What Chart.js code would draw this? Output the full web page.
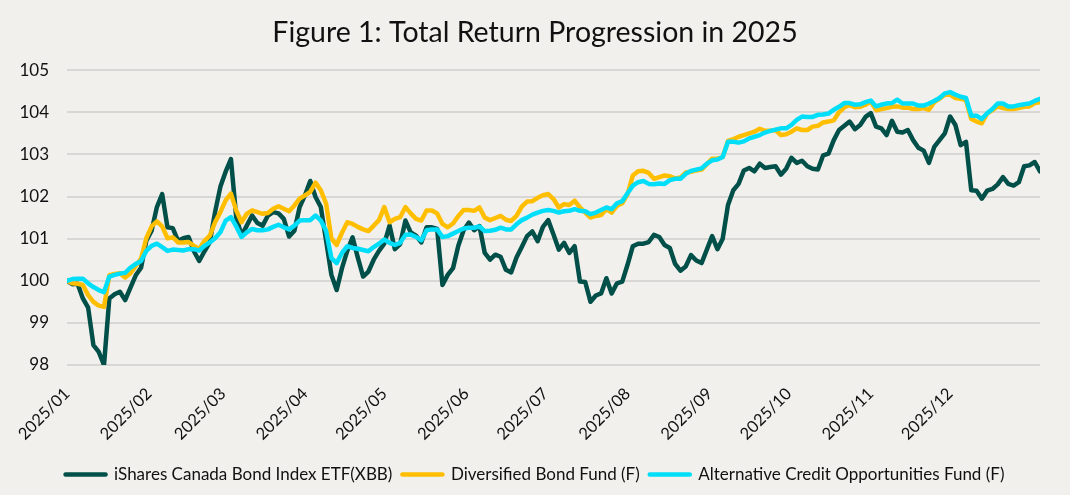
<!DOCTYPE html>
<html>
<head>
<meta charset="utf-8">
<title>Figure 1: Total Return Progression in 2025</title>
<script src="https://cdn.jsdelivr.net/npm/chart.js@4.4.1/dist/chart.umd.min.js"></script>
<style>
  html, body { margin: 0; padding: 0; background: #f2f0ed; }
  #wrap { width: 1070px; height: 495px; }
</style>
</head>
<body>
<div id="wrap"><canvas id="myChart"></canvas></div>
<script>
'use strict';

// one value every 2 calendar days, day 0 = 2025/01/01
const SAMPLE_STEP = 2;

const monthStarts = [0, 31, 59, 90, 120, 151, 181, 212, 243, 273, 304, 334];
const monthLabels = ['2025/01','2025/02','2025/03','2025/04','2025/05','2025/06',
                     '2025/07','2025/08','2025/09','2025/10','2025/11','2025/12'];

const yTicks = [98, 99, 100, 101, 102, 103, 104, 105];

const seriesNames = [
  'iShares Canada Bond Index ETF(XBB)',
  'Diversified Bond Fund (F)',
  'Alternative Credit Opportunities Fund (F)'
];

const xbb = [
  100.0, 99.92, 99.93, 99.58, 99.36, 98.47, 98.31, 98.0, 99.58, 99.68,
  99.74, 99.54, 99.84, 100.13, 100.31, 100.95, 101.19, 101.75, 102.06, 101.27,
  101.25, 100.95, 101.01, 101.04, 100.7, 100.47, 100.7, 100.91, 101.63, 102.23,
  102.59, 102.89, 101.51, 101.07, 101.31, 101.55, 101.37, 101.31, 101.55, 101.63,
  101.6, 101.47, 101.05, 101.19, 101.75, 102.03, 102.37, 101.99, 101.75, 100.95,
  100.14, 99.78, 100.3, 100.71, 101.03, 100.55, 100.1, 100.22, 100.5, 100.71,
  100.88, 101.31, 100.75, 100.87, 101.43, 101.15, 101.07, 100.91, 101.27, 101.27,
  101.23, 99.9, 100.14, 100.3, 100.83, 101.2, 101.38, 101.2, 101.3, 100.66,
  100.5, 100.62, 100.57, 100.26, 100.2, 100.55, 100.8, 101.06, 101.17, 100.94,
  101.28, 101.44, 101.1, 100.74, 100.9, 100.66, 100.82, 99.98, 99.97, 99.5,
  99.65, 99.7, 100.06, 99.7, 99.94, 99.98, 100.38, 100.82, 100.88, 100.88,
  100.92, 101.09, 101.04, 100.85, 100.78, 100.4, 100.24, 100.34, 100.61, 100.48,
  100.42, 100.74, 101.06, 100.75, 101.0, 101.8, 102.15, 102.3, 102.62, 102.68,
  102.6, 102.78, 102.68, 102.7, 102.72, 102.52, 102.66, 102.92, 102.8, 102.85,
  102.72, 102.66, 102.64, 102.98, 103.02, 103.34, 103.58, 103.68, 103.78, 103.6,
  103.7, 103.89, 103.98, 103.66, 103.62, 103.46, 103.8, 103.54, 103.52, 103.58,
  103.34, 103.16, 103.09, 102.8, 103.18, 103.34, 103.5, 103.9, 103.7, 103.22,
  103.3, 102.15, 102.14, 101.95, 102.14, 102.18, 102.29, 102.46, 102.3, 102.26,
  102.34, 102.72, 102.74, 102.82, 102.6
];

const diversified = [
  100.0, 99.94, 99.93, 99.9, 99.66, 99.5, 99.41, 99.38, 100.13, 100.16,
  100.18, 100.08, 100.18, 100.35, 100.53, 101.01, 101.29, 101.41, 101.29, 101.01,
  101.03, 100.91, 100.91, 100.92, 100.83, 100.75, 100.95, 101.07, 101.39, 101.63,
  101.91, 102.07, 101.67, 101.39, 101.59, 101.67, 101.63, 101.59, 101.61, 101.71,
  101.77, 101.71, 101.65, 101.79, 101.95, 102.03, 102.11, 102.33, 102.15, 101.83,
  101.0, 100.85, 101.14, 101.39, 101.35, 101.28, 101.22, 101.18, 101.31, 101.44,
  101.75, 101.39, 101.47, 101.51, 101.75, 101.6, 101.47, 101.43, 101.67, 101.67,
  101.6, 101.35, 101.27, 101.36, 101.54, 101.68, 101.68, 101.66, 101.74, 101.5,
  101.44, 101.49, 101.54, 101.45, 101.42, 101.54, 101.76, 101.88, 101.89, 101.97,
  102.03, 102.06, 101.94, 101.74, 101.82, 101.8, 101.9, 101.74, 101.62, 101.5,
  101.54, 101.56, 101.7, 101.62, 101.78, 101.84, 102.05, 102.5, 102.6, 102.61,
  102.56, 102.42, 102.46, 102.5, 102.48, 102.43, 102.45, 102.57, 102.59, 102.62,
  102.64, 102.77, 102.9, 102.9, 102.94, 103.32, 103.36, 103.42, 103.46, 103.5,
  103.54, 103.61, 103.56, 103.56, 103.58, 103.46, 103.48, 103.54, 103.62, 103.58,
  103.58, 103.66, 103.68, 103.76, 103.78, 103.81, 104.0, 104.12, 104.17, 104.12,
  104.13, 104.18, 104.26, 104.05, 104.08, 104.1, 104.13, 104.14, 104.11, 104.11,
  104.08, 104.08, 104.1, 104.06, 104.24, 104.32, 104.42, 104.42, 104.34, 104.32,
  104.29, 103.84, 103.78, 103.74, 103.97, 104.05, 104.14, 104.1, 104.08, 104.08,
  104.1, 104.13, 104.14, 104.22, 104.24
];

const altCredit = [
  100.0, 100.04, 100.05, 100.05, 99.94, 99.85, 99.78, 99.73, 100.1, 100.14,
  100.17, 100.19, 100.31, 100.4, 100.47, 100.71, 100.83, 100.88, 100.8, 100.71,
  100.74, 100.73, 100.72, 100.75, 100.75, 100.72, 100.83, 100.91, 101.01, 101.15,
  101.43, 101.51, 101.29, 101.04, 101.15, 101.23, 101.2, 101.2, 101.22, 101.28,
  101.33, 101.27, 101.22, 101.31, 101.43, 101.44, 101.44, 101.55, 101.43, 101.18,
  100.54, 100.42, 100.66, 100.82, 100.78, 100.76, 100.73, 100.7, 100.8, 100.88,
  100.98, 100.9, 100.85, 100.9, 101.09, 101.1, 101.04, 100.96, 101.2, 101.22,
  101.22, 101.04, 101.06, 101.12, 101.18, 101.24, 101.26, 101.26, 101.29, 101.18,
  101.19, 101.21, 101.26, 101.22, 101.22, 101.34, 101.44, 101.5, 101.57, 101.62,
  101.66, 101.68, 101.66, 101.62, 101.65, 101.66, 101.7, 101.66, 101.65, 101.58,
  101.62, 101.68, 101.74, 101.7, 101.84, 101.89, 102.08, 102.26, 102.34, 102.37,
  102.3, 102.29, 102.31, 102.3, 102.39, 102.42, 102.42, 102.54, 102.61, 102.64,
  102.67, 102.78, 102.86, 102.88, 102.94, 103.3, 103.3, 103.28, 103.31, 103.38,
  103.42, 103.46, 103.52, 103.56, 103.59, 103.62, 103.62, 103.7, 103.82, 103.9,
  103.89, 103.89, 103.94, 103.95, 103.97, 104.06, 104.13, 104.22, 104.22, 104.18,
  104.19, 104.24, 104.28, 104.14, 104.18, 104.21, 104.22, 104.3, 104.21, 104.21,
  104.21, 104.16, 104.16, 104.21, 104.27, 104.34, 104.45, 104.48, 104.42, 104.37,
  104.34, 103.92, 103.92, 103.84, 103.98, 104.08, 104.21, 104.21, 104.14, 104.14,
  104.17, 104.19, 104.21, 104.27, 104.32
];

const COLORS = ['#004f48', '#ffbf00', '#00def9'];
const LINE_W = 4.5;
const FONT = 'Lato, "Noto Sans", sans-serif';

function toPoints(values){
  return values.map((v, i) => ({ x: i * SAMPLE_STEP, y: v }));
}

function makeDataset(idx, values){
  // later series sit on top, like the original
  return {
    label: seriesNames[idx],
    data: toPoints(values),
    borderColor: COLORS[idx],
    backgroundColor: COLORS[idx],
    borderWidth: LINE_W,
    borderJoinStyle: 'round',
    borderCapStyle: 'round',
    pointRadius: 0,
    pointHoverRadius: 0,
    tension: 0,
    order: 3 - idx
  };
}

function init(){
  const ctx = document.getElementById('myChart').getContext('2d');
  const lastDay = (xbb.length - 1) * SAMPLE_STEP;

  new Chart(ctx, {
    type: 'line',
    data: {
      datasets: [
        makeDataset(0, xbb),
        makeDataset(1, diversified),
        makeDataset(2, altCredit)
      ]
    },
    options: {
      responsive: true,
      maintainAspectRatio: false,
      animation: false,
      layout: { padding: { left: 20, right: 20, top: 0, bottom: 2 } },
      plugins: {
        title: {
          display: true,
          text: 'Figure 1: Total Return Progression in 2025',
          color: '#111',
          font: { family: FONT, size: 28.5, weight: 'normal' },
          padding: { top: 16, bottom: 20 }
        },
        legend: {
          position: 'bottom',
          labels: {
            usePointStyle: true,
            pointStyle: 'line',
            pointStyleWidth: 40,
            padding: 10,
            color: '#111',
            font: { family: FONT, size: 17 },
            sort: (a, b) => a.datasetIndex - b.datasetIndex,
            generateLabels(chart){
              const items = Chart.defaults.plugins.legend.labels.generateLabels(chart);
              items.forEach(it => {
                it.lineWidth = LINE_W;
                it.lineCap = 'round';
                it.strokeStyle = COLORS[it.datasetIndex];
              });
              return items;
            }
          }
        },
        tooltip: { enabled: false }
      },
      scales: {
        x: {
          type: 'linear',
          min: 0,
          max: lastDay,
          afterBuildTicks(axis){
            axis.ticks = monthStarts.map(d => ({ value: d }));
          },
          afterFit(axis){
            // labels may hang out to the left, as in the original
            axis.paddingLeft = 0;
            axis.paddingRight = 30;
            axis.height = 91;
          },
          grid: { display: false },
          border: { display: false },
          ticks: {
            autoSkip: false,
            minRotation: 45,
            maxRotation: 45,
            padding: 11,
            color: '#111',
            font: { family: FONT, size: 16.5 },
            callback: (value, index) => monthLabels[index]
          }
        },
        y: {
          min: yTicks[0],
          max: yTicks[yTicks.length - 1],
          afterBuildTicks(axis){
            axis.ticks = yTicks.map(v => ({ value: v }));
          },
          afterFit(axis){
            axis.width = 47;
          },
          grid: { color: '#d9d6d6', lineWidth: 2, drawTicks: false },
          border: { display: false },
          ticks: {
            padding: 18,
            color: '#111',
            font: { family: FONT, size: 17 }
          }
        }
      }
    }
  });
}

if (document.readyState === 'loading'){
  document.addEventListener('DOMContentLoaded', init);
} else {
  init();
}
</script>
</body>
</html>
